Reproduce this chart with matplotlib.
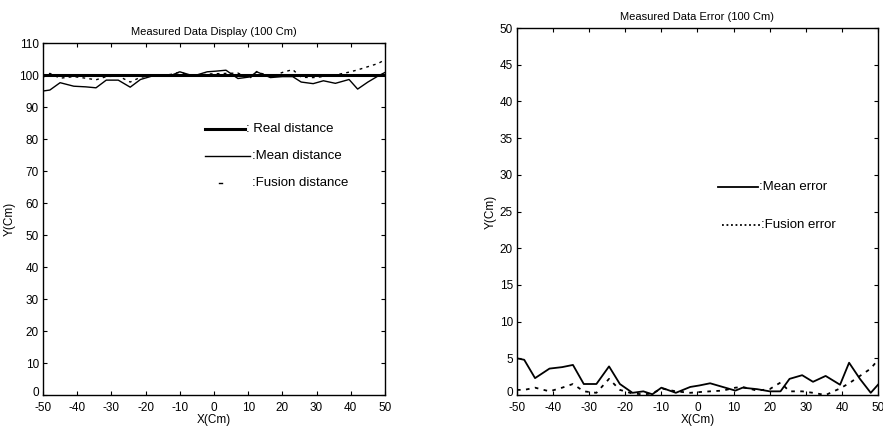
import matplotlib
matplotlib.use("Agg")
import matplotlib.pyplot as plt
from matplotlib.transforms import ScaledTranslation

plt.rcParams['font.family'] = ['Liberation Sans Narrow', 'Liberation Sans', 'DejaVu Sans']
plt.rcParams['axes.unicode_minus'] = False

# ---- data ----
x_pos = [-50, -48, -45, -41, -37.5, -34.5, -31.5, -28, -24.5, -21.5, -18, -15, -12.5, -10,
         -6, -2, 0.5, 3.5, 7, 10.5, 12.5, 16.5, 20, 23, 25.5, 29, 32, 35.5, 39.5, 42, 45, 48, 50]

real_dist = [100] * len(x_pos)
mean_dist = [95.0, 95.3, 97.6, 96.5, 96.3, 96.0, 98.4, 98.4, 96.2, 98.6, 99.7, 99.6, 99.9, 101.0,
             99.7, 101.0, 101.2, 101.5, 98.9, 99.4, 101.0, 99.2, 99.5, 99.5, 97.8, 97.3, 98.2,
             97.4, 98.6, 95.6, 97.8, 99.7, 100.8]
fusion_dist = [99.3, 100.5, 99.0, 99.5, 99.0, 98.5, 99.5, 99.7, 97.8, 99.3, 99.8, 99.9, 100.2, 100.9,
               99.5, 100.3, 100.4, 100.5, 100.6, 99.0, 101.1, 99.4, 100.8, 101.7, 99.3, 99.2, 99.5,
               100.0, 100.9, 101.6, 102.6, 103.6, 104.8]

mean_err = [5.0, 4.8, 2.3, 3.6, 3.8, 4.1, 1.5, 1.5, 3.9, 1.5, 0.3, 0.5, 0.1, 1.0, 0.3, 1.1, 1.3,
            1.6, 1.1, 0.6, 1.0, 0.8, 0.5, 0.5, 2.2, 2.7, 1.8, 2.6, 1.4, 4.4, 2.2, 0.3, 1.4]
fusion_err = [0.7, 0.7, 1.0, 0.5, 1.0, 1.5, 0.5, 0.3, 2.2, 0.7, 0.2, 0.1, 0.2, 0.9, 0.5, 0.3, 0.4,
              0.5, 0.6, 1.0, 1.1, 0.6, 0.8, 1.7, 0.5, 0.5, 0.3, 0.0, 0.9, 1.6, 2.6, 3.6, 4.8]

x_ticks = [-50, -40, -30, -20, -10, 0, 10, 20, 30, 40, 50]
y_ticks_left = list(range(0, 111, 10))
y_ticks_right = list(range(0, 51, 5))

fig = plt.figure(figsize=(8.83, 4.42), dpi=100)

ax1 = fig.add_axes([0.0487, 0.1063, 0.3873, 0.7964])
ax2 = fig.add_axes([0.5855, 0.1063, 0.4088, 0.8303])

for ax in (ax1, ax2):
    ax.tick_params(direction='in', length=3, width=0.8, labelsize=8.5, top=True, right=True)
    ax.tick_params(axis='x', pad=5)
    ax.tick_params(axis='y', pad=3)
    for s in ax.spines.values():
        s.set_linewidth(1.0)
    ax.set_xlim(-50, 50)
    ax.set_xticks(x_ticks)
    ax.set_xlabel('X(Cm)', fontsize=8.5, labelpad=0)
    ax.set_ylabel('Y(Cm)', fontsize=8.5, labelpad=2)

# left plot
ax1.plot(x_pos, real_dist, color='black', lw=2.2)
ax1.plot(x_pos, mean_dist, color='black', lw=1.0)
ax1.plot(x_pos, fusion_dist, color='black', lw=1.0, ls=(0, (2, 3)))
ax1.set_ylim(0, 110)
ax1.set_yticks(y_ticks_left)
ax1.set_title('Measured Data Display (100 Cm)', fontsize=8, pad=6)

ax1.plot([-2.6, 9.1], [83.1, 83.1], color='black', lw=2.2)
ax1.text(9.4, 83.1, ': Real distance', fontsize=9.5, va='center')
ax1.plot([-2.6, 10.5], [74.7, 74.7], color='black', lw=1.0)
ax1.text(11.0, 74.7, ':Mean distance', fontsize=9.5, va='center')
ax1.plot([1.4, 2.2], [66.3, 66.3], color='black', lw=1.0)
ax1.text(11.0, 66.3, ':Fusion distance', fontsize=9.5, va='center')

# right plot
ax2.plot(x_pos, mean_err, color='black', lw=1.3)
ax2.plot(x_pos, fusion_err, color='black', lw=1.3, ls=(0, (2, 3)))
ax2.set_ylim(0, 50)
ax2.set_yticks(y_ticks_right)
ax2.set_title('Measured Data Error (100 Cm)', fontsize=8, pad=6)

ax2.plot([5.7, 16.8], [28.3, 28.3], color='black', lw=1.3)
ax2.text(17.1, 28.3, ':Mean error', fontsize=9.5, va='center')
ax2.plot([6.8, 17.5], [23.2, 23.2], color='black', lw=1.3, ls=(0, (1, 1.5)))
ax2.text(17.6, 23.2, ':Fusion error', fontsize=9.5, va='center')

# nudge the "0" y tick label up slightly so it clears the "-50" x label
fig.canvas.draw()
for ax in (ax1, ax2):
    lbl = ax.get_yticklabels()[0]
    lbl.set_transform(lbl.get_transform() + ScaledTranslation(0, 2.5 / 72, fig.dpi_scale_trans))

fig.savefig('out.png', dpi=100)
